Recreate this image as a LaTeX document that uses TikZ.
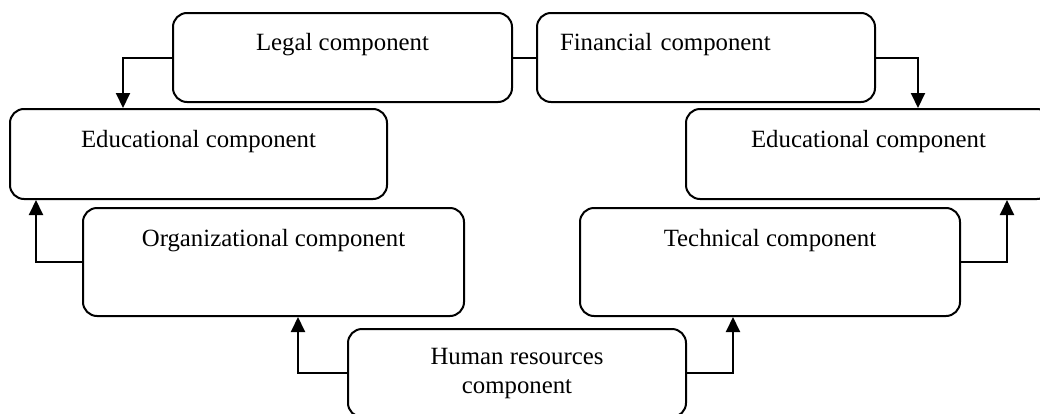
\documentclass[tikz,border=0pt]{standalone}
\usepackage{fontspec}
\setmainfont{Liberation Serif}
\usetikzlibrary{arrows.meta}
\begin{document}
\begin{tikzpicture}[x=0.5pt,y=-0.5pt,
  box/.style={draw, line width=1pt, rounded corners=7pt, inner ysep=0pt, inner xsep=0pt,
    font=\fontsize{12.4}{14.5}\selectfont, anchor=north west},
  arr/.style={line width=1pt, -{Triangle[width=7pt,length=7.5pt]}},
  ln/.style={line width=1pt}]
\useasboundingbox (0,0) rectangle (1040,413);
\clip (0,0) rectangle (1040,413);
\node[box, minimum width=169.5pt, text height=18.5pt, text depth=26pt] (legal) at (172,12) {Legal component};
\node[box, inner xsep=11.5pt, text width=146pt, align=left, text height=18.5pt, text depth=26pt] (fin) at (536,12) {Financial component};
\node[box, minimum width=188.5pt, text height=19pt, text depth=26pt] (edul) at (9,108) {Educational component};
\node[box, minimum width=182.5pt, text height=19pt, text depth=26pt] (edur) at (685,108) {Educational component};
\node[box, minimum width=190.5pt, text height=19pt, text depth=35pt] (org) at (82,207) {Organizational component};
\node[box, minimum width=190pt, text height=19pt, text depth=35pt] (tech) at (579,207) {Technical component};
\node[box, minimum width=169pt, align=center, text height=32pt, text depth=12pt] (hr) at (347,328) {Human resources\\component};
\draw[ln] (legal.east) -- (fin.west);
\draw[arr] (legal.west) -| ([xshift=57pt]edul.north west);
\draw[arr] (fin.east) -| ([xshift=116.5pt]edur.north west);
\draw[arr] (org.west) -| ([xshift=13.5pt]edul.south west);
\draw[arr] (tech.east) -| ([xshift=161pt]edur.south west);
\draw[arr] (hr.west) -| ([xshift=108pt]org.south west);
\draw[arr] (hr.east) -| ([xshift=77pt]tech.south west);
\end{tikzpicture}
\end{document}
